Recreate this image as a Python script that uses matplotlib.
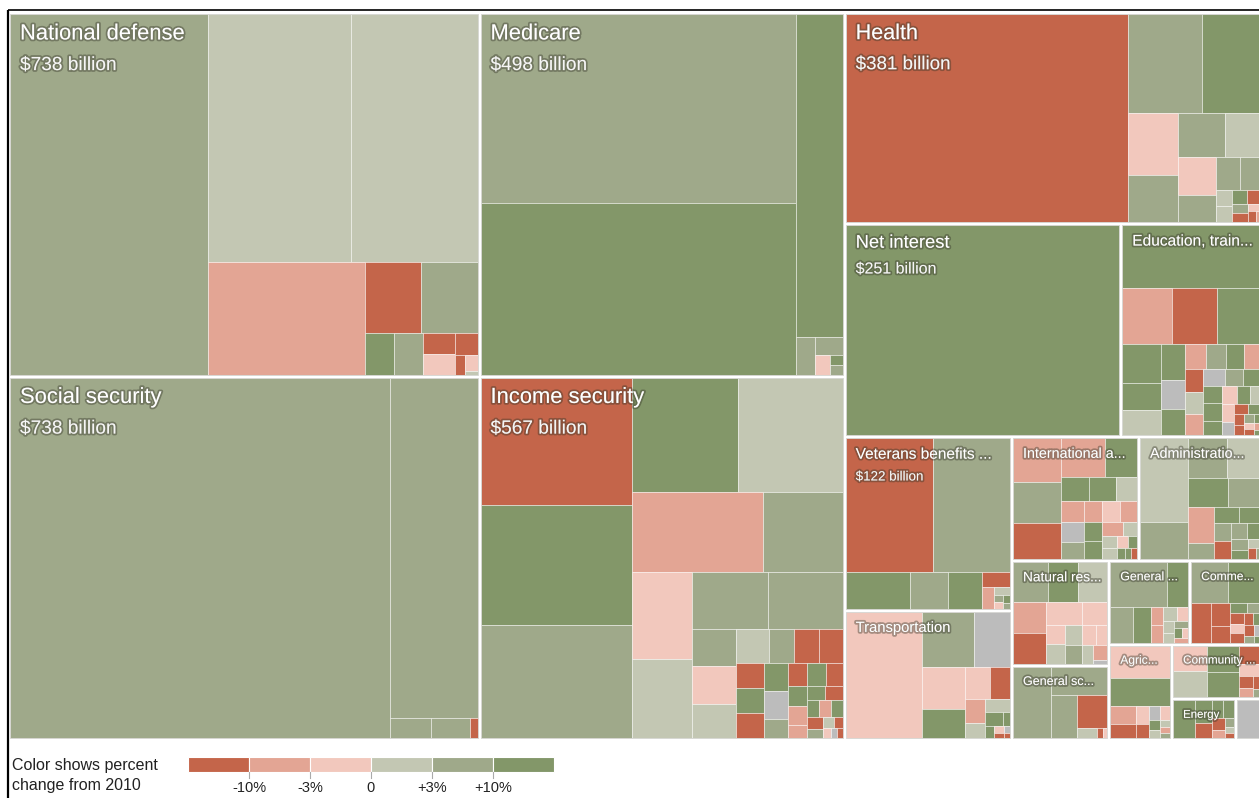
import numpy as np
import matplotlib
matplotlib.use("Agg")
import matplotlib.pyplot as plt
from matplotlib.patches import Rectangle
import matplotlib.patheffects as pe

plt.rcParams['font.family'] = ['Liberation Sans', 'DejaVu Sans']

# top-level budget functions, largest box first
labels = ["National defense", "Social security", "Medicare", "Income security",
          "Health", "Net interest", "Education, train...", "Veterans benefits ...",
          "Transportation", "International a...", "Administratio...", "Natural res...",
          "General sc...", "General ...", "Comme...", "Agric...", "Community ...",
          "Energy", ""]
amounts = ["$738 billion", "$738 billion", "$498 billion", "$567 billion",
           "$381 billion", "$251 billion", None, "$122 billion", None, None, None,
           None, None, None, None, None, None, None, None]
sizes = [163, 163, 126.5, 126.5, 84.2, 56.2, 28.9, 27.7, 20.6, 15.0, 14.7,
         9.7, 6.9, 6.45, 5.85, 5.7, 4.75, 2.5, 1.05]

# sub-items of each function (relative box size) and their change class
# R < -10%, S -10..-3%, P -3..0, L 0..+3%, G +3..+10%, D > +10%, X no data
parts = [
    [71.5, 35.5, 31.5, 17.7, 4.0, 4.0, 1.2, 1.2, 0.65, 0.65, 0.5, 0.2, 0.2, 0.05],
    [137, 30, 0.82, 0.78, 0.15],
    [59.7, 54.4, 15.2, 0.7, 0.48, 0.3, 0.13, 0.13],
    [19.3, 18.1, 17.1, 12.1, 12.0, 10.5, 6.4, 5.2, 4.7, 4.3, 4.2, 1.67, 1.67, 1.5,
     1.1, 0.88, 0.82, 0.82, 0.72, 0.7, 0.7, 0.68, 0.66, 0.45, 0.44, 0.43, 0.4, 0.38,
     0.35, 0.25, 0.25, 0.25, 0.2, 0.2, 0.2, 0.18, 0.15, 0.12, 0.1, 0.08, 0.06, 0.05],
    [58.4, 7.25, 5.9, 3.0, 2.3, 2.06, 1.6, 1.44, 1.0, 0.8, 0.7, 0.25, 0.25, 0.2,
     0.2, 0.15, 0.15, 0.1, 0.08, 0.06],
    [1],
    [8.1, 2.6, 2.34, 2.3, 1.43, 0.98, 0.9, 0.8, 0.63, 0.57, 0.5, 0.45, 0.42, 0.4,
     0.4, 0.37, 0.36, 0.36, 0.3, 0.3, 0.3, 0.3, 0.25, 0.25, 0.22, 0.2, 0.2, 0.15,
     0.12, 0.12, 0.1, 0.1, 0.08, 0.06, 0.06, 0.05, 0.05, 0.04],
    [11.4, 10.0, 2.27, 1.33, 1.22, 0.4, 0.25, 0.12, 0.06, 0.06, 0.05, 0.04],
    [9.2, 2.75, 1.9, 1.72, 1.18, 0.75, 0.62, 0.46, 0.3, 0.29, 0.24, 0.1, 0.1, 0.06,
     0.05, 0.04, 0.03],
    [1.98, 1.8, 1.62, 1.58, 1.15, 0.62, 0.62, 0.46, 0.46, 0.42, 0.37, 0.36, 0.35,
     0.34, 0.33, 0.3, 0.27, 0.18, 0.17, 0.15, 0.12, 0.1, 0.08, 0.06, 0.06],
    [3.9, 1.73, 1.48, 1.33, 1.12, 0.95, 0.88, 0.4, 0.38, 0.35, 0.3, 0.3, 0.25, 0.22,
     0.2, 0.15, 0.12, 0.08, 0.06],
    [1.33, 1.17, 1.1, 1.0, 0.96, 0.8, 0.58, 0.35, 0.35, 0.33, 0.32, 0.25, 0.22, 0.2,
     0.2, 0.05],
    [2.6, 1.54, 1.05, 0.96, 0.2, 0.06, 0.04],
    [2.4, 0.9, 0.76, 0.6, 0.2, 0.2, 0.18, 0.14, 0.12, 0.1, 0.1, 0.08, 0.06, 0.06],
    [1.44, 1.3, 0.76, 0.43, 0.3, 0.17, 0.15, 0.14, 0.13, 0.13, 0.1, 0.1, 0.1, 0.08,
     0.06, 0.05],
    [1.65, 1.43, 0.4, 0.3, 0.2, 0.15, 0.13, 0.12, 0.1, 0.08, 0.06, 0.05, 0.04],
    [0.76, 0.76, 0.74, 0.7, 0.36, 0.25, 0.15, 0.12, 0.1, 0.06],
    [0.8, 0.38, 0.25, 0.2, 0.2, 0.15, 0.1, 0.08, 0.06, 0.05],
    [1],
]
change = [
    "GLLSRGDGRPRRPL",
    "GGGGR",
    "GDDGGPDG",
    "RDGDLSGPLGG" "GPLLGRR" "RDRDXG" "RDRDS" "SDRDSDR" "GLRPXR",
    "RGDPGGLPGGGLLDRGRPRS",
    "D",
    "DSRD" "DDLDXD" "SGDSR" "LSXGDDD" "DPDLP" "XRDRR" "GDPRSD",
    "RGDGDRSLGPDG",
    "PGXPDPRSLLDDDPRXR",
    "SGRSDDDLSXGSPSDDSLLLPDDDR",
    "LGGLDGSGDDGRGDGDLRG",
    "GDLSRPPPLLGPPLSX",
    "GGGRLRP",
    "GDGDSSLPLLGDPS",
    "GDRRRDGRPRRDRXGD",
    "PDSRPRXPDLLSG",
    "PLDDRPRSRG",
    "DDRDDRSGLR",
    "X",
]

legend_ticks = ["-10%", "-3%", "0", "+3%", "+10%"]

palette = {"R": "#c4654a", "S": "#e3a594", "P": "#f2c8bd", "L": "#c3c7b3",
           "G": "#9fa98a", "D": "#839769", "X": "#bcbcbc"}


def worst(row, side):
    s = sum(row)
    return max(max(side * side * r / (s * s), s * s / (side * side * r)) for r in row)


def squarify(values, x, y, w, h):
    total = float(sum(values))
    vals = [v * w * h / total for v in values]
    rects = []
    i = 0
    while i < len(vals):
        side = min(w, h)
        row = [vals[i]]
        j = i + 1
        while j < len(vals) and worst(row + [vals[j]], side) <= worst(row, side):
            row.append(vals[j])
            j += 1
        s = sum(row)
        if w >= h:
            cw = s / h
            cy = y
            for v in row:
                rects.append((x, cy, cw, v / cw))
                cy += v / cw
            x += cw
            w -= cw
        else:
            rh = s / w
            cx = x
            for v in row:
                rects.append((cx, y, v / rh, rh))
                cx += v / rh
            y += rh
            h -= rh
        i = j
    return rects


fig = plt.figure(figsize=(12.59, 7.98), dpi=100)
ax = fig.add_axes([0, 0, 1, 1])
ax.set_xlim(0, 1259)
ax.set_ylim(798, 0)
ax.axis("off")

gap = 1.5
blocks = squarify(sizes, 8.5, 12.5, 1254.5, 727)
glow = [pe.withStroke(linewidth=2.6, foreground=(0.2, 0.2, 0.15, 0.4))]

for k, (bx, by, bw, bh) in enumerate(blocks):
    bx, by, bw, bh = bx + gap, by + gap, bw - 2 * gap, bh - 2 * gap
    vals = parts[k]
    cls = change[k]
    assert len(vals) == len(cls), labels[k]
    order = sorted(range(len(vals)), key=lambda n: -vals[n])
    cells = squarify([vals[n] for n in order], bx, by, bw, bh)
    for n, (cx, cy, cw, ch) in zip(order, cells):
        ax.add_patch(Rectangle((cx, cy), cw, ch, facecolor=palette[cls[n]],
                               edgecolor=(1, 1, 1, 0.5), linewidth=0.6))
    frame = Rectangle((bx, by), bw, bh, facecolor="none",
                      edgecolor="#d4d4d0", linewidth=0.6)
    ax.add_patch(frame)

    if labels[k]:
        area_k = bw * bh / 1000.0
        fs = float(np.interp(area_k, [2, 5, 10, 30, 60, 90],
                             [8.2, 8.5, 10, 11.2, 13.4, 15.8]))
        fpx = fs * 100 / 72.0
        base = by + 9 + 0.75 * fpx
        t = ax.text(bx + 10, base, labels[k], fontsize=fs, color="white",
                    va="baseline", ha="left", path_effects=glow)
        t.set_clip_path(frame)
        if amounts[k]:
            t2 = ax.text(bx + 10, base + 1.35 * fpx + 1, amounts[k], fontsize=fs * 0.87,
                         color=(1, 1, 1, 0.9), va="baseline", ha="left",
                         path_effects=glow)
            t2.set_clip_path(frame)

# legend
ax.text(12, 770, "Color shows percent", fontsize=11.5, color="#222222", va="baseline")
ax.text(12, 790, "change from 2010", fontsize=11.5, color="#222222", va="baseline")
bar_x0, bar_x1 = 188, 554
steps = "RSPLGD"
sw = (bar_x1 - bar_x0) / len(steps)
for i, c in enumerate(steps):
    ax.add_patch(Rectangle((bar_x0 + i * sw, 757), sw, 15, facecolor=palette[c],
                           edgecolor="white", linewidth=0.8))
for i, lab in enumerate(legend_ticks):
    tx = bar_x0 + (i + 1) * sw
    ax.plot([tx, tx], [772, 778], color="#aaaaaa", lw=0.8)
    ax.text(tx, 788, lab, fontsize=10.5, color="#222222", ha="center", va="center")

# screenshot frame
ax.plot([8, 8], [9.5, 798], color="black", lw=1.6, solid_capstyle="butt")
ax.plot([8, 1259], [9.5, 9.5], color="black", lw=1.2, solid_capstyle="butt")

fig.savefig("out.png", dpi=100)
